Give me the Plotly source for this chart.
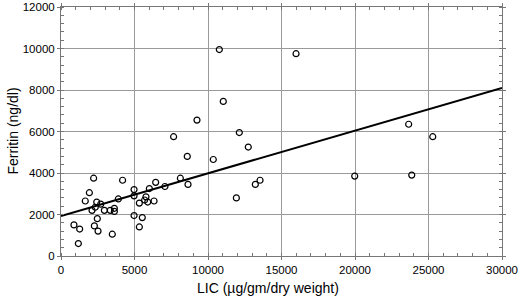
import plotly.graph_objects as go

lic = [10770, 11040, 9250, 7660, 12130, 12740, 8590, 10360, 2220, 4190, 8120, 6440, 8640,
       7070, 4970, 6010, 1930, 13540, 13220, 11930, 1650, 2430, 2700, 3900, 4970, 5780,
       5690, 5900, 5330, 6330, 2330, 2110, 2950, 3350, 3630, 3630, 4970, 5530, 2470,
       880, 1270, 2270, 2520, 5330, 3490, 1180, 15990, 23650, 25290, 19980, 23860]
ferritin = [9950, 7450, 6550, 5750, 5950, 5250, 4800, 4650, 3750, 3650, 3750, 3550, 3450,
            3350, 3200, 3250, 3050, 3650, 3450, 2800, 2650, 2600, 2500, 2750, 2900, 2850,
            2700, 2600, 2550, 2650, 2350, 2200, 2200, 2200, 2300, 2150, 1950, 1850, 1800,
            1500, 1300, 1450, 1200, 1400, 1050, 600, 9750, 6350, 5750, 3850, 3900]

fit_x = [0, 30000]
fit_y = [1930, 8100]

x_ticks = [0, 5000, 10000, 15000, 20000, 25000, 30000]
y_ticks = [0, 2000, 4000, 6000, 8000, 10000, 12000]

font = "Liberation Sans, Arial, sans-serif"

fig = go.Figure()
fig.add_trace(go.Scatter(x=fit_x, y=fit_y, mode="lines",
                         line=dict(color="black", width=2), showlegend=False, cliponaxis=False))
fig.add_trace(go.Scatter(x=lic, y=ferritin, mode="markers",
                         marker=dict(symbol="circle-open", size=6, color="black",
                                     line=dict(width=1.2, color="black")),
                         showlegend=False))

fig.update_layout(
    width=520, height=299,
    margin=dict(l=61, r=18, t=7, b=43),
    paper_bgcolor="white", plot_bgcolor="white",
    font=dict(family=font, size=11.5, color="black"),
    xaxis=dict(range=[0, 30000], tickvals=x_ticks, ticktext=[str(v) for v in x_ticks],
               automargin=False,
               showgrid=True, gridcolor="#9a9a9a", gridwidth=1,
               showline=True, linecolor="#777", linewidth=1, mirror="ticks",
               ticks="outside", ticklen=3, tickcolor="#777", zeroline=False,
               minor=dict(dtick=1000, ticks="inside", ticklen=3, tickcolor="#777", showgrid=False),
               tickfont=dict(size=11.5)),
    yaxis=dict(range=[0, 12000], tickvals=y_ticks, ticktext=[str(v) for v in y_ticks],
               automargin=False,
               showgrid=True, gridcolor="#9a9a9a", gridwidth=1,
               showline=True, linecolor="#777", linewidth=1, mirror="ticks",
               ticks="outside", ticklen=3, tickcolor="#777", zeroline=False,
               minor=dict(dtick=400, ticks="inside", ticklen=3, tickcolor="#777", showgrid=False),
               tickfont=dict(size=11.5)),
    annotations=[
        dict(text="LIC (µg/gm/dry weight)", xref="paper", yref="paper",
             x=0.469, y=-0.09, xanchor="center", yanchor="top", showarrow=False,
             font=dict(size=14, family=font)),
        dict(text="Ferritin (ng/dl)", xref="paper", yref="paper",
             x=-0.111, y=0.5, xanchor="center", yanchor="middle", textangle=-90,
             showarrow=False, font=dict(size=14, family=font)),
    ],
)

fig.write_html("out.html", config={"displayModeBar": False},
               post_script="document.body.style.margin='0';document.body.style.overflow='hidden';")
